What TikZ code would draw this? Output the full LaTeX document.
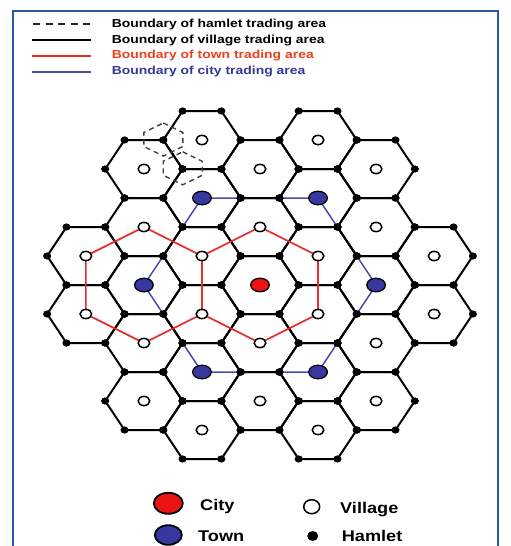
\documentclass[tikz,border=0pt]{standalone}
\usepackage{fontspec}
\newfontfamily\lf[FakeStretch=1.2]{Liberation Sans}
\newfontfamily\lfb[FakeStretch=1.17]{Liberation Sans}
\definecolor{cityred}{RGB}{235,20,20}
\definecolor{townblue}{RGB}{55,55,160}
\definecolor{redline}{RGB}{230,45,45}
\definecolor{blueline}{RGB}{75,75,170}
\definecolor{redtext}{RGB}{235,65,30}
\definecolor{bluetext}{RGB}{55,55,150}
\definecolor{framec}{RGB}{40,90,160}
\tikzset{
  hexedge/.style={line width=2pt, line join=round, black},
  hamletb/.style={dash pattern=on 5pt off 4pt, line width=1.4pt, black!75},
  townb/.style={redline, line width=1.7pt, line join=round},
  cityb/.style={blueline, line width=1.5pt, line join=round},
  villagec/.style={draw=black, fill=white, line width=1.5pt},
  towndot/.style={draw=black, fill=townblue, line width=1.3pt},
  citydot/.style={draw=black, fill=cityred, line width=1.3pt},
  legtext/.style={anchor=base west, inner sep=0pt, font=\lf\fontsize{11.6}{12}\selectfont\bfseries},
  legtextb/.style={anchor=base west, inner sep=0pt, font=\lfb\fontsize{15.5}{16}\selectfont\bfseries}
}
\begin{document}
\begin{tikzpicture}[x=1pt,y=-1pt]
\useasboundingbox (0,0) rectangle (511,546);
% frame
\draw[framec, line width=1.5pt] (13,546) -- (13,11) -- (498,11) -- (498,546);

% lattice centres
\foreach \a/\b in {-1/-5,1/-5,-2/-4,0/-4,2/-4,-1/-3,1/-3,-2/-2,0/-2,2/-2,-3/-1,-1/-1,1/-1,3/-1,-2/0,0/0,2/0,-3/1,-1/1,1/1,3/1,-2/2,0/2,2/2,-1/3,1/3,-2/4,0/4,2/4,-1/5,1/5}
  \coordinate (p\a x\b) at ({260+58.05*\a},{285+29*\b});

% city trading area (blue)
\draw[cityb] (p-1x-3) -- (p1x-3) -- (p2x0) -- (p1x3) -- (p-1x3) -- (p-2x0) -- cycle;

% village hexagons
\foreach \a/\b in {-1/-5,1/-5,-2/-4,0/-4,2/-4,-1/-3,1/-3,-2/-2,0/-2,2/-2,-3/-1,-1/-1,1/-1,3/-1,-2/0,0/0,2/0,-3/1,-1/1,1/1,3/1,-2/2,0/2,2/2,-1/3,1/3,-2/4,0/4,2/4,-1/5,1/5}
  \draw[hexedge, shift={(p\a x\b)}] (38.7,0) -- (19.35,29) -- (-19.35,29) -- (-38.7,0) -- (-19.35,-29) -- (19.35,-29) -- cycle;

% town trading areas (red)
\draw[townb] (p-3x-1) -- (p-2x-2) -- (p-1x-1) -- (p-1x1) -- (p-2x2) -- (p-3x1) -- cycle;
\draw[townb] (p0x-2) -- (p1x-1) -- (p1x1) -- (p0x2) -- (p-1x1) -- (p-1x-1) -- cycle;

% hamlet trading areas (dashed)
\coordinate (hA) at (163.3,139.5);
\coordinate (hB) at (182.7,168.3);
\foreach \h in {hA,hB}
  \draw[hamletb, shift={(\h)}] (0,-16.5) -- (19.5,-7) -- (19.5,7) -- (0,16.5) -- (-19.5,7) -- (-19.5,-7) -- cycle;

% hamlets
\foreach \a/\b in {-1/-5,1/-5,-2/-4,0/-4,2/-4,-1/-3,1/-3,-2/-2,0/-2,2/-2,-3/-1,-1/-1,1/-1,3/-1,-2/0,0/0,2/0,-3/1,-1/1,1/1,3/1,-2/2,0/2,2/2,-1/3,1/3,-2/4,0/4,2/4,-1/5,1/5}
  \foreach \dx/\dy in {38.7/0,19.35/29,-19.35/29,-38.7/0,-19.35/-29,19.35/-29}
    \fill[shift={(p\a x\b)}] (\dx,\dy) ellipse [x radius=4.1pt, y radius=3.6pt];

% villages
\foreach \a/\b in {-1/-5,1/-5,-2/-4,0/-4,2/-4,-2/-2,0/-2,2/-2,-3/-1,-1/-1,1/-1,3/-1,-3/1,-1/1,1/1,3/1,-2/2,0/2,2/2,-2/4,0/4,2/4,-1/5,1/5}
  \draw[villagec] (p\a x\b) ellipse [x radius=5.8pt, y radius=4.6pt];

% towns
\foreach \a/\b in {-1/-3,1/-3,-2/0,2/0,-1/3,1/3}
  \draw[towndot] (p\a x\b) ellipse [x radius=9.3pt, y radius=6.8pt];
% city
\draw[citydot] (p0x0) ellipse [x radius=9.3pt, y radius=6.8pt];

% top legend
\draw[dash pattern=on 7pt off 5.5pt, line width=1.6pt, black!85] (33,24) -- (92,24);
\draw[line width=1.8pt] (32,40) -- (91,40);
\draw[redline, line width=1.8pt] (32,56) -- (91,56);
\draw[blueline, line width=1.8pt] (32,71.7) -- (91,71.7);
\node[legtext] (l1) at (111.7,27.3) {Boundary of hamlet trading area};
\node[legtext] (l2) at (111.7,43.3) {Boundary of village trading area};
\node[legtext, text=redtext] (l3) at (111.7,58.7) {Boundary of town trading area};
\node[legtext, text=bluetext] (l4) at (111.7,74.2) {Boundary of city trading area};

% bottom legend
\draw[citydot, line width=1.8pt] (168.3,503.3) ellipse [x radius=14.5pt, y radius=10.5pt];
\draw[towndot, line width=1.8pt] (168.3,535) ellipse [x radius=13.5pt, y radius=9.8pt];
\draw[villagec, line width=1.5pt] (311.7,506.7) ellipse [x radius=8pt, y radius=7pt];
\fill (312.7,536) ellipse [x radius=5.5pt, y radius=5pt];
\node[legtextb] (lc) at (200,510.7) {City};
\node[legtextb] (lt) at (198,541) {Town};
\node[legtextb] (lv) at (340,513.3) {Village};
\node[legtextb] (lh) at (341.7,541.7) {Hamlet};
\end{tikzpicture}
\end{document}
